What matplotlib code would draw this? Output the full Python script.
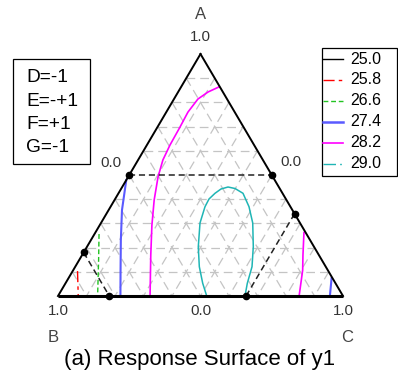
import numpy as np
import matplotlib.pyplot as plt
from matplotlib.patches import Rectangle

plt.rcParams['font.family'] = ['Liberation Sans', 'DejaVu Sans']

# contour levels of y1 and their styles
levels = ['25.0', '25.8', '26.6', '27.4', '28.2', '29.0']
level_colors = ['black', '#ff0000', '#22c322', '#5a5aff', '#ff00ff', '#1fb5b5']
legend_styles = ['-', (0, (8, 3, 2.5, 3)), (0, (3.5, 2)), '-', '-', (0, (9, 3, 1.2, 3))]
legend_widths = [1.0, 1.0, 1.0, 1.8, 1.2, 1.0]

# contour traces as (A, C) mixture fractions, B = 1 - A - C
red_A = [0.103, 0.0]
red_C = [0.017, 0.071]
green_A = [0.256, 0.149, 0.0]
green_C = [0.016, 0.068, 0.139]
blue_A = [0.479, 0.355, 0.231, 0.107, 0.0]
blue_C = [0.0, 0.047, 0.105, 0.166, 0.219]
blue2_A = [0.074, 0.0]
blue2_C = [0.923, 0.954]
mag_A = [0.864, 0.843, 0.814, 0.760, 0.698, 0.624, 0.562, 0.492, 0.397, 0.293, 0.169, 0.0]
mag_C = [0.133, 0.105, 0.084, 0.076, 0.079, 0.081, 0.087, 0.105, 0.139, 0.183, 0.241, 0.323]
mag2_A = [0.262, 0.169, 0.107, 0.0]
mag2_C = [0.732, 0.775, 0.805, 0.846]
cyan_A = [0.0, 0.0525, 0.1211, 0.2037, 0.3017, 0.369, 0.4008, 0.4244, 0.4421,
          0.4504, 0.4442, 0.4244, 0.369, 0.3017, 0.2037, 0.1211, 0.0525, 0.0]
cyan_C = [0.5218, 0.4815, 0.4353, 0.3904, 0.3474, 0.3313, 0.3294, 0.3387, 0.3508,
          0.3713, 0.3990, 0.4369, 0.4857, 0.5324, 0.5834, 0.6202, 0.6380, 0.6561]

# constraint edges of the design region, (A, C) at both ends
cons_A = [(0.5, 0.5), (0.34, 0.0), (0.18, 0.0)]
cons_C = [(0.0, 0.5), (0.66, 0.66), (0.0, 0.18)]

factor_text = ['D=-1', 'E=-+1', 'F=+1', 'G=-1']
title = '(a) Response Surface of y1'


def tern(a, c):
    a = np.asarray(a, dtype=float)
    c = np.asarray(c, dtype=float)
    return c + a / 2, a


fig = plt.figure(figsize=(3.98, 3.78), dpi=100)

# overlay in pixel units for the boxes and caption
ov = fig.add_axes([0, 0, 1, 1])
ov.set_xlim(0, 398)
ov.set_ylim(378, 0)
ov.axis('off')

ax = fig.add_axes([58 / 398, 82 / 378, 285 / 398, 242 / 378])
ax.set_xlim(0, 1)
ax.set_ylim(0, 1)
ax.axis('off')
ax.patch.set_alpha(0)

# grid lines of constant A, B and C
for k in range(1, 10):
    f = k / 10
    if k != 5:
        x, y = tern([f, f], [0, 1 - f])
        ax.plot(x, y, color='#c4c4c4', lw=0.9, dashes=(7, 4), zorder=1)
    x, y = tern([1 - f, 0], [0, 1 - f])
    ax.plot(x, y, color='#c4c4c4', lw=0.9, dashes=(7, 4), zorder=1)
    x, y = tern([1 - f, 0], [f, f])
    ax.plot(x, y, color='#c4c4c4', lw=0.9, dashes=(7, 4), zorder=1)

# contours
x, y = tern(red_A, red_C)
ax.plot(x, y, color=level_colors[1], lw=1.0, ls=legend_styles[1], zorder=3)
x, y = tern(green_A, green_C)
ax.plot(x, y, color=level_colors[2], lw=1.0, ls=legend_styles[2], zorder=3)
for aa, cc in [(blue_A, blue_C), (blue2_A, blue2_C)]:
    x, y = tern(aa, cc)
    ax.plot(x, y, color=level_colors[3], lw=1.5, zorder=3)
for aa, cc in [(mag_A, mag_C), (mag2_A, mag2_C)]:
    x, y = tern(aa, cc)
    ax.plot(x, y, color=level_colors[4], lw=1.2, zorder=3)
x, y = tern(cyan_A, cyan_C)
ax.plot(x, y, color=level_colors[5], lw=1.1, zorder=3, solid_joinstyle='round')

# constraint edges and vertices
for aa, cc in zip(cons_A, cons_C):
    x, y = tern(aa, cc)
    ax.plot(x, y, color='#222222', lw=1.1, dashes=(4, 2.5), zorder=4)
    ax.plot(x, y, 'o', color='black', ms=4.5, ls='none', zorder=6, clip_on=False)

# triangle outline
x, y = tern([1, 0], [0, 0])
ax.plot(x, y, color='black', lw=1.4, zorder=5, clip_on=False)
x, y = tern([1, 0], [0, 1])
ax.plot(x, y, color='black', lw=1.4, zorder=5, clip_on=False)
x, y = tern([0, 0], [0, 1])
ax.plot(x, y, color='black', lw=2.2, zorder=5, clip_on=False, solid_capstyle='butt')

# axis labels at vertices and side midpoints
tick_kw = dict(textcoords='offset points', ha='center', va='center',
               fontsize=10.8, color='#333333', annotation_clip=False)
ax.annotate('1.0', tern(1, 0), xytext=(0, 11.9), **tick_kw)
ax.annotate('1.0', tern(0, 0), xytext=(0, -10.8), **tick_kw)
ax.annotate('1.0', tern(0, 1), xytext=(0, -10.8), **tick_kw)
ax.annotate('0.0', tern(0, 0.5), xytext=(0, -10.8), **tick_kw)
ax.annotate('0.0', tern(0.5, 0), xytext=(-13, 8.3), **tick_kw)
ax.annotate('0.0', tern(0.5, 0.5), xytext=(13.7, 9.4), **tick_kw)
name_kw = dict(textcoords='offset points', ha='center', va='center',
               fontsize=12, color='#444444', annotation_clip=False)
ax.annotate('A', tern(1, 0), xytext=(0, 28.4), **name_kw)
ax.annotate('B', tern(0, 0), xytext=(-3.6, -29.9), **name_kw)
ax.annotate('C', tern(0, 1), xytext=(2.9, -29.9), **name_kw)

# factor settings box
ov.add_patch(Rectangle((13, 59), 77, 105, fill=False, ec='black', lw=0.9))
for i, t in enumerate(factor_text):
    ov.text(26, 78 + i * 23.2, t, fontsize=13.8, ha='left', va='center')

# legend box
ov.add_patch(Rectangle((322, 48), 75, 128, fill=False, ec='black', lw=0.9))
for i, lab in enumerate(levels):
    yy = 59 + i * 20.9
    ov.plot([323, 343], [yy, yy], color=level_colors[i], ls=legend_styles[i],
            lw=legend_widths[i])
    ov.text(350, yy, lab, fontsize=11.5, ha='left', va='center')

ov.text(200, 360, title, fontsize=16, ha='center', va='center')

plt.savefig('out.png', dpi=100)
